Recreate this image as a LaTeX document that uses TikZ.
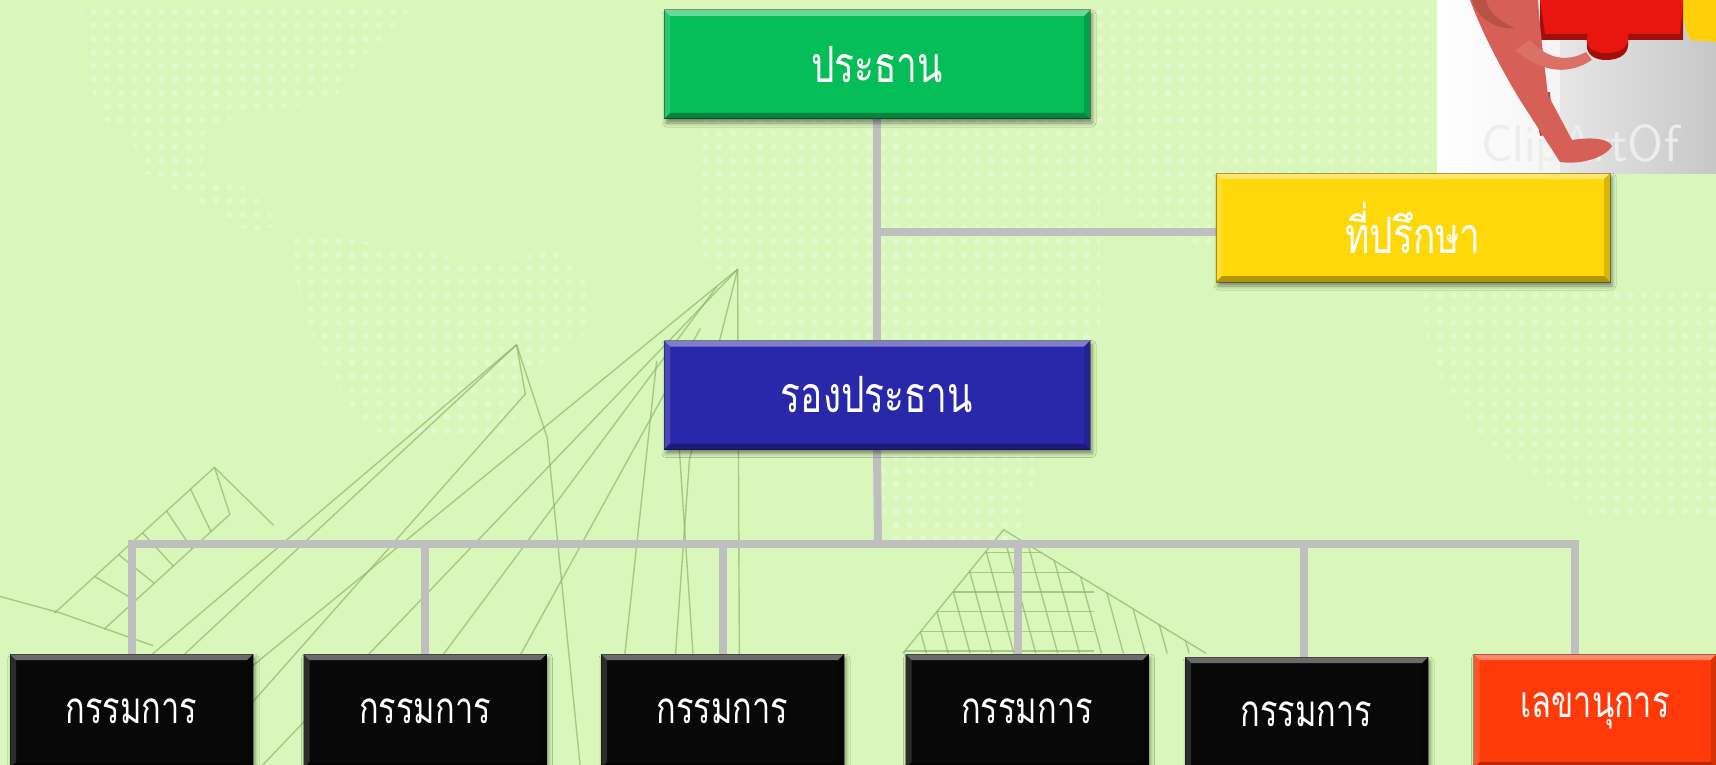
\documentclass[tikz,border=0pt]{standalone}
\usepackage{fontspec}
\newfontfamily\thaifont[Script=Thai,FakeStretch=0.74]{Loma}
\usetikzlibrary{shadows.blur,calc}

\definecolor{bgc}{RGB}{218,247,187}
\definecolor{artc}{RGB}{140,182,110}
\definecolor{wirec}{RGB}{191,191,191}
\definecolor{presc}{RGB}{6,190,88}
\definecolor{vicec}{RGB}{42,40,170}
\definecolor{advc}{RGB}{255,216,10}
\definecolor{memc}{RGB}{8,8,8}
\definecolor{secc}{RGB}{255,58,8}
\definecolor{figc}{RGB}{214,96,85}
\definecolor{piecec}{RGB}{232,22,14}

\pgfdeclarelayer{art}
\pgfdeclarelayer{wires}
\pgfsetlayers{art,wires,main}

\tikzset{
  bevel/.style={path picture={
    \path (path picture bounding box.north west) coordinate (bvNW)
          (path picture bounding box.north east) coordinate (bvNE)
          (path picture bounding box.south west) coordinate (bvSW)
          (path picture bounding box.south east) coordinate (bvSE);
    \path ([xshift=6pt,yshift=-6pt]bvNW) coordinate (bvnw)
          ([xshift=-6pt,yshift=-6pt]bvNE) coordinate (bvne)
          ([xshift=6pt,yshift=6pt]bvSW) coordinate (bvsw)
          ([xshift=-6pt,yshift=6pt]bvSE) coordinate (bvse);
    \fill[white,opacity=.40] (bvNW)--(bvNE)--(bvne)--(bvnw)--cycle;
    \fill[white,opacity=.15] (bvNW)--(bvnw)--(bvsw)--(bvSW)--cycle;
    \fill[black,opacity=.15] (bvNE)--(bvne)--(bvse)--(bvSE)--cycle;
    \fill[black,opacity=.30] (bvSW)--(bvsw)--(bvse)--(bvSE)--cycle;
  }},
  orgbox/.style={rectangle, inner sep=0pt, text=white, bevel,
    draw=black, draw opacity=.35, line width=1pt,
    font=\thaifont\fontsize{50}{56}\selectfont,
    blur shadow={shadow xshift=2pt, shadow yshift=-4pt,
      shadow blur radius=4pt, shadow opacity=45}},
  topbox/.style={orgbox, minimum width=426pt, minimum height=109pt},
  membox/.style={orgbox, fill=memc, minimum width=243pt, minimum height=114pt,
    font=\thaifont\fontsize{44}{50}\selectfont},
  wire/.style={draw=wirec, line width=8pt},
  artline/.style={draw=artc, line width=1.4pt, opacity=.7},
  mapdots/.style={fill=white, opacity=.26},
}

\begin{document}
\begin{tikzpicture}[x=1pt, y=-1pt]
\useasboundingbox (0,0) rectangle (1716,765);

% ---------- boxes of the chart ----------
\node[topbox, fill=presc] (pres) at (877,64.5)  {ประธาน};
\node[topbox, fill=vicec] (vice) at (877,395)   {รองประธาน};
\node[orgbox, fill=advc, minimum width=394pt, minimum height=109pt]
      (adv) at (1413,227.5) {ที่ปรึกษา};

\node[membox] (c1) at (131.5,711)  {กรรมการ};
\node[membox] (c2) at (425,711)    {กรรมการ};
\node[membox] (c3) at (722.5,711)  {กรรมการ};
\node[membox] (c4) at (1027,711)   {กรรมการ};
\node[membox] (c5) at (1306.5,714) {กรรมการ};
\node[membox, fill=secc] (sec) at (1595,711) {เลขานุการ};

\coordinate (bus) at (878,544);
\coordinate (advin) at ([yshift=-4pt]adv.west);
\coordinate (drop4) at ([xshift=-9pt]c4.north);
\coordinate (drop5) at ([xshift=-3pt]c5.north);
\coordinate (drop6) at ([xshift=-20pt]sec.north);

% ---------- connectors ----------
\begin{pgfonlayer}{wires}
  \draw[wire] (pres.south) -- (vice.north);
  \draw[wire] (pres.south |- advin) -- (advin);
  \draw[wire] (vice.south) -- (bus);
  \draw[wire, line cap=rect] (bus -| c1.north) -- (bus -| drop6);
  \draw[wire] (bus -| c1.north) -- (c1.north);
  \draw[wire] (bus -| c2.north) -- (c2.north);
  \draw[wire] (bus -| c3.north) -- (c3.north);
  \draw[wire] (bus -| drop4) -- (drop4);
  \draw[wire] (bus -| drop5) -- (drop5);
  \draw[wire] (bus -| drop6) -- (drop6);
\end{pgfonlayer}

% ---------- backdrop: map dots, building sketch, clip-art ----------
\begin{pgfonlayer}{art}
  \fill[bgc] (0,0) rectangle (1716,765);

  % dotted world map
  \begin{scope}
    \clip (80,0) -- (420,0) -- (380,40) -- (350,70) -- (335,100) -- (265,110)
      -- (210,125) -- (200,170) -- (250,190) -- (280,225) -- (250,232)
      -- (215,210) -- (175,190) -- (140,170) -- (130,130) -- (100,120)
      -- (85,60) -- cycle
      (290,236) -- (340,238) -- (420,250) -- (480,262) -- (560,250)
      -- (585,280) -- (590,330) -- (520,380) -- (510,440) -- (390,440)
      -- (360,420) -- (320,360) -- (300,300) -- cycle
      (700,0) -- (1100,0) -- (1100,330) -- (1040,450) -- (1020,545)
      -- (890,545) -- (870,450) -- (760,330) -- (700,250) -- cycle
      (1100,0) -- (1440,0) -- (1440,240) -- (1350,280) -- (1250,260)
      -- (1150,230) -- (1100,180) -- cycle
      (1420,290) -- (1716,290) -- (1716,520) -- (1600,520) -- (1480,440)
      -- (1430,360) -- cycle;
    \foreach \j in {0,...,41} {
      \fill[mapdots] \foreach \i in {0,...,126} { (12+13.6*\i, 12+13.5*\j) circle (3.3) };
    }
  \end{scope}

  % building sketch
  \begin{scope}[scale=1.0944]
    \draw[artline] (674,246) -- (120,699);
    \draw[artline] (674,246) -- (240,699);
    \draw[artline] (674,246) -- (676,699);
    \draw[artline] (674,246) -- (630,420) -- (610,699);
    \draw[artline] (655,262) -- (330,699);
    \draw[artline] (600,330) -- (560,699);
    \draw[artline] (640,300) -- (420,699);
    \draw[artline] (620,400) -- (640,699);
    \draw[artline] (472,315) -- (20,699);
    \draw[artline] (472,315) -- (60,699);
    \draw[artline] (472,315) -- (500,400) -- (530,699);
    \draw[artline] (472,315) -- (480,360) -- (180,699);
    \draw[artline] (196,427) -- (50,560);
    \draw[artline] (196,427) -- (250,480);
    \draw[artline] (0,545) -- (55,560) -- (140,590);
    \draw[artline] (196,427) -- (210,470) -- (95,575);
    \foreach \t in {0.15,0.3,...,0.9} {
      \draw[artline] ($(196,427)!\t!(50,560)$) -- ($(210,470)!\t!(95,575)$);
    }
    \draw[artline] (917,484) -- (825,597);
    \draw[artline] (917,484) -- (1102,597);
    \begin{scope}
      \clip (917,484) -- (825,597) -- (1102,597) -- cycle;
      \foreach \k in {0,...,14} {
        \draw[artline] (800+\k*20,500) -- (830+\k*20,610);
      }
      \foreach \k in {0,...,5} {
        \draw[artline] (800,505+\k*18) -- (1000,505+\k*18);
      }
    \end{scope}
  \end{scope}

  % clip-art corner
  \begin{scope}
    \clip (1437,0) rectangle (1716,173);
    \shade[left color=white, right color=black!22] (1437,0) rectangle (1716,173);
    \fill[white, opacity=.6] (1437,0) rectangle (1560,173);
    \node[anchor=west, text=black!7, font=\sffamily\fontsize{52}{52}\selectfont]
      (mark) at (1478,148) {ClipArtOf};
    % puzzle pieces
    \fill[advc!90!orange] (1677,0) -- (1716,0) -- (1716,42) -- (1690,40) -- cycle;
    \fill[piecec!70!black] (1540,0) -- (1683,0) -- (1683,40) -- (1628,40)
      .. controls (1630,52) and (1622,60) .. (1606,60)
      .. controls (1590,60) and (1584,50) .. (1588,40) -- (1540,40) -- cycle;
    \fill[piecec] (1540,0) -- (1683,0) -- (1680,34) -- (1628,34)
      .. controls (1630,46) and (1622,53) .. (1606,53)
      .. controls (1590,53) and (1584,44) .. (1588,34) -- (1545,34) -- cycle;
    % figure: back leg, arm, body with front leg
    \fill[figc!80!black] (1533,95) -- (1550,92) -- (1553,133) -- (1540,136) -- cycle;
    \fill[figc] (1470,0) -- (1538,0)
      .. controls (1540,30) and (1545,70) .. (1548,95)
      -- (1572,140) .. controls (1590,137) and (1608,138) .. (1612,146)
      .. controls (1605,158) and (1580,165) .. (1560,162)
      -- (1520,100) .. controls (1505,75) and (1485,40) .. (1470,0) -- cycle;
    \fill[figc!90!white] (1515,50) .. controls (1545,75) and (1570,74) .. (1592,60)
      -- (1586,52) .. controls (1568,62) and (1548,60) .. (1530,40) -- cycle;
    \fill[figc!85!black] (1472,0) .. controls (1478,20) and (1498,30) .. (1515,28)
      .. controls (1500,22) and (1488,12) .. (1486,0) -- cycle;
  \end{scope}
\end{pgfonlayer}
\end{tikzpicture}
\end{document}
